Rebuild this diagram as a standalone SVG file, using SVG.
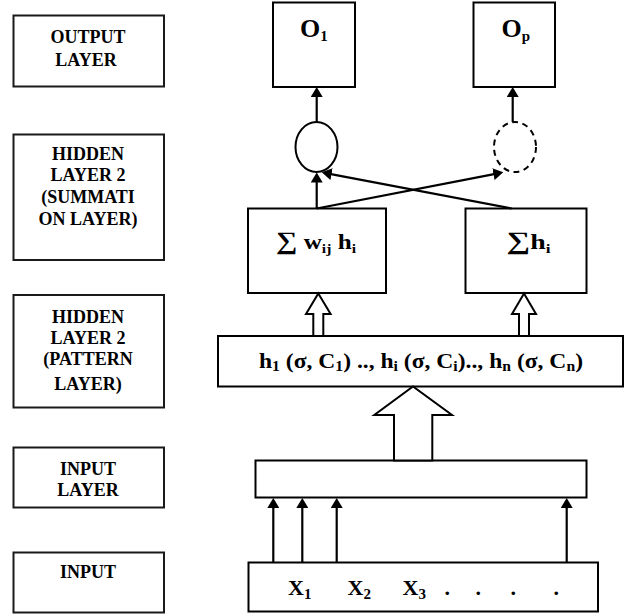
<svg xmlns="http://www.w3.org/2000/svg" width="628" height="615" viewBox="0 0 628 615">
<style>
.box{fill:#fff;stroke:#000;stroke-width:2}
.lbl{fill:#fff;stroke:#1a1a1a;stroke-width:2}
.t{font-family:"Liberation Serif","Times New Roman",serif;font-weight:bold;fill:#000}
.lt{font-size:18px;text-anchor:middle}
.ln{stroke:#000;stroke-width:2.2;fill:none}
.hol{fill:#fff;stroke:#000;stroke-width:2;stroke-linejoin:miter}
</style>
<defs>
<marker id="ah" markerWidth="12" markerHeight="12" refX="2" refY="6" orient="auto" markerUnits="userSpaceOnUse">
<path d="M0,0 L10,6 L0,12 z" fill="#000"/>
</marker>
</defs>
<rect width="628" height="615" fill="#fff"/>

<g id="label-output">
<rect class="lbl" x="13.5" y="15.5" width="150.5" height="71"/>
<text class="t lt" x="88" y="43">OUTPUT</text>
<text class="t lt" x="86" y="66">LAYER</text>
</g>
<g id="label-summation">
<rect class="lbl" x="13.5" y="134.5" width="150.5" height="125.5"/>
<text class="t lt" x="88" y="160">HIDDEN</text>
<text class="t lt" x="88" y="181">LAYER 2</text>
<text class="t lt" x="88" y="202.5">(SUMMATI</text>
<text class="t lt" x="88" y="224.5">ON LAYER)</text>
</g>
<g id="label-pattern">
<rect class="lbl" x="13.5" y="295" width="150.5" height="112.5"/>
<text class="t lt" x="88" y="323">HIDDEN</text>
<text class="t lt" x="88" y="343.5">LAYER 2</text>
<text class="t lt" x="88" y="365">(PATTERN</text>
<text class="t lt" x="88" y="390">LAYER)</text>
</g>
<g id="label-input-layer">
<rect class="lbl" x="13.5" y="447.5" width="150.5" height="60"/>
<text class="t lt" x="88" y="475">INPUT</text>
<text class="t lt" x="88" y="496">LAYER</text>
</g>
<g id="label-input">
<rect class="lbl" x="13.5" y="552.5" width="150.5" height="60"/>
<text class="t lt" x="88" y="578">INPUT</text>
</g>

<g id="out-1">
<rect class="box" x="273" y="2.5" width="82" height="84.5"/>
<text class="t" x="300" y="37" font-size="26">O<tspan font-size="15" dy="4">1</tspan></text>
</g>
<g id="out-p">
<rect class="box" x="473.5" y="2.5" width="81.5" height="84.5"/>
<text class="t" x="501.5" y="37" font-size="26">O<tspan font-size="15" dy="4">p</tspan></text>
</g>
<g id="sum-node-1">
<ellipse class="box" cx="316.5" cy="147" rx="21" ry="25"/>
</g>
<g id="sum-node-p">
<ellipse cx="515" cy="147" rx="21" ry="25" fill="#fff" stroke="#000" stroke-width="2" stroke-dasharray="6,4.5"/>
</g>
<g id="sum-weighted">
<rect class="box" x="248" y="208.5" width="138" height="84.5"/>
<text class="t" x="276" y="249" font-size="21" textLength="80" lengthAdjust="spacingAndGlyphs"><tspan font-size="25">∑</tspan> w<tspan font-size="13" dy="4">ij</tspan><tspan dy="-4"> h</tspan><tspan font-size="13" dy="4">i</tspan></text>
</g>
<g id="sum-plain">
<rect class="box" x="465.5" y="208.5" width="121" height="84.5"/>
<text class="t" x="506.5" y="249" font-size="21" textLength="44" lengthAdjust="spacingAndGlyphs"><tspan font-size="25">∑</tspan>h<tspan font-size="13" dy="4">i</tspan></text>
</g>
<g id="pattern-layer">
<rect class="box" x="218" y="336" width="405" height="50.5"/>
<text class="t" x="259" y="368" font-size="21" textLength="324" lengthAdjust="spacingAndGlyphs">h<tspan font-size="14" dy="3">1</tspan><tspan dy="-3"> (σ, C</tspan><tspan font-size="14" dy="3">1</tspan><tspan dy="-3">) .., h</tspan><tspan font-size="14" dy="3">i</tspan><tspan dy="-3"> (σ, C</tspan><tspan font-size="14" dy="3">i</tspan><tspan dy="-3">).., h</tspan><tspan font-size="14" dy="3">n</tspan><tspan dy="-3"> (σ, C</tspan><tspan font-size="14" dy="3">n</tspan><tspan dy="-3">)</tspan></text>
</g>
<g id="input-layer">
<rect class="box" x="255.5" y="460.5" width="331" height="37"/>
</g>
<g id="input">
<rect class="box" x="248.5" y="562.5" width="349.5" height="49"/>
<text class="t" x="288" y="595" font-size="22">X<tspan font-size="15" dy="4">1</tspan></text>
<text class="t" x="347.5" y="595" font-size="22">X<tspan font-size="15" dy="4">2</tspan></text>
<text class="t" x="402.5" y="595" font-size="22">X<tspan font-size="15" dy="4">3</tspan></text>
<text class="t" x="444.5" y="594.5" font-size="22">.</text>
<text class="t" x="475.5" y="594.5" font-size="22">.</text>
<text class="t" x="510.5" y="594.5" font-size="22">.</text>
<text class="t" x="553.5" y="594.5" font-size="22">.</text>
</g>

<g id="connectors">
<line class="ln" x1="316.7" y1="122" x2="316.7" y2="95" marker-end="url(#ah)"/>
<line class="ln" x1="512.7" y1="122" x2="512.7" y2="95" marker-end="url(#ah)"/>
<line class="ln" x1="316.7" y1="208.5" x2="316.7" y2="180.5" marker-end="url(#ah)"/>
<line class="ln" x1="511.7" y1="208.5" x2="329.6" y2="173.8" marker-end="url(#ah)"/>
<line class="ln" x1="316.7" y1="208.5" x2="495.4" y2="173.8" marker-end="url(#ah)"/>
<polygon class="hol" points="313.3,336 313.3,314 306,314 318.3,293.5 330.6,314 323.3,314 323.3,336"/>
<polygon class="hol" points="519,336 519,314 512,314 524,293.5 536,314 529,314 529,336"/>
<polygon class="hol" points="394,460.5 394,415 374.3,415 413,386.5 452,415 432.3,415 432.3,460.5"/>
<line class="ln" x1="273.3" y1="562.5" x2="273.3" y2="506" marker-end="url(#ah)"/>
<line class="ln" x1="302.3" y1="562.5" x2="302.3" y2="506" marker-end="url(#ah)"/>
<line class="ln" x1="336.7" y1="562.5" x2="336.7" y2="506" marker-end="url(#ah)"/>
<line class="ln" x1="566.7" y1="562.5" x2="566.7" y2="506" marker-end="url(#ah)"/>
</g>
</svg>
